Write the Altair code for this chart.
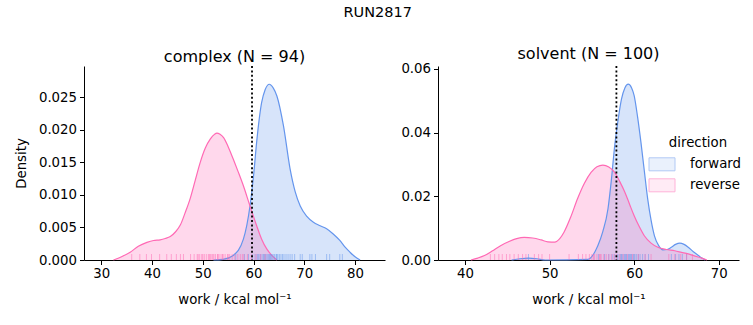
import altair as alt
import pandas as pd

# ---------------- data ----------------
directions = ["forward", "reverse"]

# complex panel KDE curves
cx_fwd_x = [52.1, 54.0, 56.0, 58.0, 59.3, 60.0, 60.6, 61.6, 62.3, 63.1, 63.9, 64.6, 65.9, 67.2, 68.2, 69.2, 70.5, 71.8, 73.0, 74.4, 75.7, 77.0, 78.0, 79.0, 80.0, 81.0]
cx_fwd_y = [0.0, 0.0001, 0.0007, 0.0032, 0.0083, 0.0129, 0.018, 0.0242, 0.0262, 0.027, 0.0264, 0.0252, 0.0206, 0.014, 0.0105, 0.0083, 0.0067, 0.0058, 0.0053, 0.0048, 0.004, 0.003, 0.002, 0.0012, 0.0005, 0.0]
cx_rev_x = [32.4, 34.0, 35.7, 37.3, 39.0, 40.3, 41.6, 42.6, 43.6, 44.6, 45.6, 46.5, 47.5, 48.5, 49.5, 50.5, 51.5, 52.3, 52.8, 53.4, 54.1, 55.0, 56.0, 57.0, 58.0, 59.3, 60.6, 61.6, 62.6, 63.6, 64.6]
cx_rev_y = [0.0, 0.0005, 0.0012, 0.0021, 0.0027, 0.003, 0.0031, 0.0033, 0.0036, 0.0043, 0.0054, 0.0072, 0.0094, 0.0122, 0.015, 0.0172, 0.0186, 0.0193, 0.0195, 0.0193, 0.0188, 0.0174, 0.0155, 0.0135, 0.0114, 0.0083, 0.0053, 0.0032, 0.0017, 0.0007, 0.0]

# solvent panel KDE curves
sv_fwd_x = [45.5, 46.5, 47.5, 48.5, 49.5, 54.5, 55.7, 56.3, 56.9, 57.3, 57.7, 58.1, 58.5, 58.9, 59.3, 59.7, 60.0, 60.4, 60.8, 61.2, 61.6, 62.0, 62.4, 62.9, 63.4, 63.9, 64.4, 64.9, 65.4, 65.9, 66.4, 67.0, 67.6, 68.0, 68.4]
sv_fwd_y = [0.0, 0.0004, 0.0006, 0.0004, 0.0, 0.0002, 0.0045, 0.009, 0.016, 0.025, 0.0359, 0.044, 0.0505, 0.054, 0.0552, 0.054, 0.0516, 0.045, 0.037, 0.028, 0.0192, 0.0125, 0.0076, 0.0045, 0.0032, 0.0033, 0.004, 0.0049, 0.0053, 0.0049, 0.004, 0.0026, 0.0014, 0.0006, 0.0]
sv_rev_x = [40.7, 41.5, 42.3, 43.2, 44.2, 45.2, 46.1, 47.0, 48.0, 49.0, 49.8, 50.6, 51.2, 51.7, 52.5, 53.3, 54.1, 54.9, 55.6, 56.3, 57.0, 57.7, 58.3, 58.9, 59.5, 60.0, 60.6, 61.2, 62.0, 62.8, 63.8, 64.8, 65.6, 66.4, 67.2, 68.0, 68.6]
sv_rev_y = [0.0, 0.0006, 0.0014, 0.0028, 0.0045, 0.0058, 0.0067, 0.0071, 0.0069, 0.0063, 0.0057, 0.0056, 0.0067, 0.0087, 0.0135, 0.0192, 0.024, 0.0275, 0.0293, 0.0298, 0.0292, 0.0275, 0.0246, 0.0213, 0.0172, 0.0139, 0.0105, 0.0076, 0.0053, 0.004, 0.0033, 0.0029, 0.0024, 0.0019, 0.0012, 0.0006, 0.0]

# rug samples
cx_fwd_rug = [56.5, 58.2, 59.0, 59.8, 60.3, 60.7, 60.9, 61.1, 61.4, 61.7, 62.0, 62.1, 62.3, 62.5, 62.8, 63.0, 63.2, 63.3, 63.5, 63.7, 64.0, 64.2, 64.5, 64.6, 64.8, 65.1, 65.4, 65.7, 66.0, 66.4, 66.8, 67.2, 67.6, 68.1, 69.2, 69.6, 71.1, 71.5, 72.2, 74.4, 75.0, 77.0, 77.5]
cx_rev_rug = [36.0, 37.6, 38.9, 39.9, 41.5, 42.9, 43.8, 44.8, 45.6, 46.2, 47.6, 48.3, 48.9, 49.1, 49.4, 49.8, 50.0, 50.3, 50.7, 51.1, 51.3, 51.5, 51.8, 52.0, 52.2, 52.5, 52.9, 53.0, 53.2, 53.6, 53.9, 54.0, 54.4, 54.9, 55.0, 55.3, 55.8, 56.3, 56.9, 57.4, 57.8, 58.1, 58.8, 59.6, 60.5, 61.4, 62.3]
sv_fwd_rug = [47.5, 55.8, 56.5, 57.0, 57.4, 57.7, 58.0, 58.2, 58.4, 58.5, 58.6, 58.8, 58.9, 59.0, 59.1, 59.3, 59.4, 59.5, 59.6, 59.7, 59.9, 60.0, 60.1, 60.3, 60.5, 60.7, 61.0, 61.3, 61.7, 64.4, 64.9, 65.3, 65.7, 66.2]
sv_rev_rug = [43.0, 43.5, 44.0, 44.4, 44.9, 45.3, 45.8, 46.3, 46.8, 47.2, 48.2, 48.7, 49.1, 50.0, 52.3, 53.4, 53.9, 54.3, 54.7, 55.0, 55.2, 55.3, 55.6, 55.9, 56.0, 56.1, 56.4, 56.7, 57.0, 57.3, 57.6, 57.9, 58.3, 58.7, 59.2, 59.8, 60.5, 61.3, 62.0, 64.1, 64.8, 65.5, 66.2, 66.9]

# dotted reference lines
cx_line = [59.7]
sv_line = [57.9]

cx_xticks = [30, 40, 50, 60, 70, 80]
cx_yticks = [0.0, 0.005, 0.010, 0.015, 0.020, 0.025]
sv_xticks = [40, 50, 60, 70]
sv_yticks = [0.0, 0.02, 0.04, 0.06]

# ---------------- build tables ----------------
def curve_df(fx, fy, rx, ry):
    return pd.concat([
        pd.DataFrame({"x": fx, "density": fy, "direction": directions[0]}),
        pd.DataFrame({"x": rx, "density": ry, "direction": directions[1]}),
    ], ignore_index=True)

def rug_df(f, r):
    return pd.concat([
        pd.DataFrame({"x": f, "direction": directions[0]}),
        pd.DataFrame({"x": r, "direction": directions[1]}),
    ], ignore_index=True)

FONT = "DejaVu Sans"
fill_scale = alt.Scale(domain=directions, range=["rgba(100,149,237,0.26)", "rgba(255,105,180,0.26)"])
stroke_scale = alt.Scale(domain=directions, range=["#6495ED", "#FF69B4"])

W, H = 301, 194


def panel(title, curves, rugs, vline, xdom, ydom, xticks, yticks, yfmt, ytitle):
    xs = alt.Scale(domain=xdom, nice=False, zero=False)
    ys = alt.Scale(domain=ydom, nice=False, zero=False)
    xaxis = alt.Axis(values=xticks, title="work / kcal mol⁻¹", format="d", tickCount=20)
    if ytitle:
        yaxis = alt.Axis(values=yticks, format=yfmt, title=ytitle, tickCount=20)
    else:
        yaxis = alt.Axis(values=yticks, format=yfmt, title=None, tickCount=20)
    area = alt.Chart(curves).mark_area(interpolate="monotone").encode(
        x=alt.X("x:Q", scale=xs, axis=xaxis),
        y=alt.Y("density:Q", scale=ys, axis=yaxis, stack=None),
        fill=alt.Fill("direction:N", scale=fill_scale, title="direction"),
    )
    line = alt.Chart(curves).mark_line(interpolate="monotone", strokeWidth=1.2).encode(
        x=alt.X("x:Q", scale=xs),
        y=alt.Y("density:Q", scale=ys, stack=None),
        stroke=alt.Stroke("direction:N", scale=stroke_scale, title="direction"),
    )
    rug = alt.Chart(rugs).mark_rule(strokeWidth=1, opacity=0.5).encode(
        x=alt.X("x:Q", scale=xs),
        y=alt.value(H - 6),
        y2=alt.value(H),
        stroke=alt.Stroke("direction:N", scale=stroke_scale, title="direction"),
    )
    vl = alt.Chart(pd.DataFrame({"x": vline})).mark_rule(
        color="black", strokeWidth=1.8, strokeDash=[2, 2.4]
    ).encode(x=alt.X("x:Q", scale=xs))
    return alt.layer(area, line, rug, vl).properties(
        width=W, height=H,
        title=alt.TitleParams(title, fontSize=16, font=FONT, fontWeight="normal", offset=0),
    )


left = panel("complex (N = 94)", curve_df(cx_fwd_x, cx_fwd_y, cx_rev_x, cx_rev_y),
             rug_df(cx_fwd_rug, cx_rev_rug), cx_line, [26.6, 85.9], [0, 0.0298],
             cx_xticks, cx_yticks, ".3f", "Density")
right = panel("solvent (N = 100)", curve_df(sv_fwd_x, sv_fwd_y, sv_rev_x, sv_rev_y),
              rug_df(sv_fwd_rug, sv_rev_rug), sv_line, [36.8, 72.4], [0, 0.0609],
              sv_xticks, sv_yticks, ".2f", None)

chart = alt.hconcat(left, right, spacing=15).properties(
    title=alt.TitleParams("RUN2817", fontSize=14.5, font=FONT, fontWeight="normal", anchor="middle", offset=25),
    padding={"left": 14, "top": 5, "right": 0, "bottom": 0},
).configure_view(stroke=None).configure_axis(
    labelFont=FONT, titleFont=FONT, labelFontSize=13.3, titleFontSize=13.3,
    titleFontWeight="normal", labelColor="black", titleColor="black",
    domainColor="black", tickColor="black", tickSize=4.5, labelPadding=3,
    grid=False, domainWidth=1, tickWidth=1, titlePadding=6, labelOverlap=False,
).configure_axisX(labelPadding=2, titlePadding=13).configure_axisY(titlePadding=10).configure_legend(
    orient="none", legendX=571, legendY=70,
    titleFont=FONT, labelFont=FONT, titleFontSize=13.3, labelFontSize=13.3,
    titleFontWeight="normal", titleColor="black", labelColor="black",
    symbolType="M-2,-1H2V1H-2Z", symbolSize=169, symbolStrokeWidth=1,
    titleAnchor="middle", titlePadding=8, rowPadding=3, labelOffset=21,
)

chart.save("out.html", embed_options={"renderer": "svg", "actions": False})
